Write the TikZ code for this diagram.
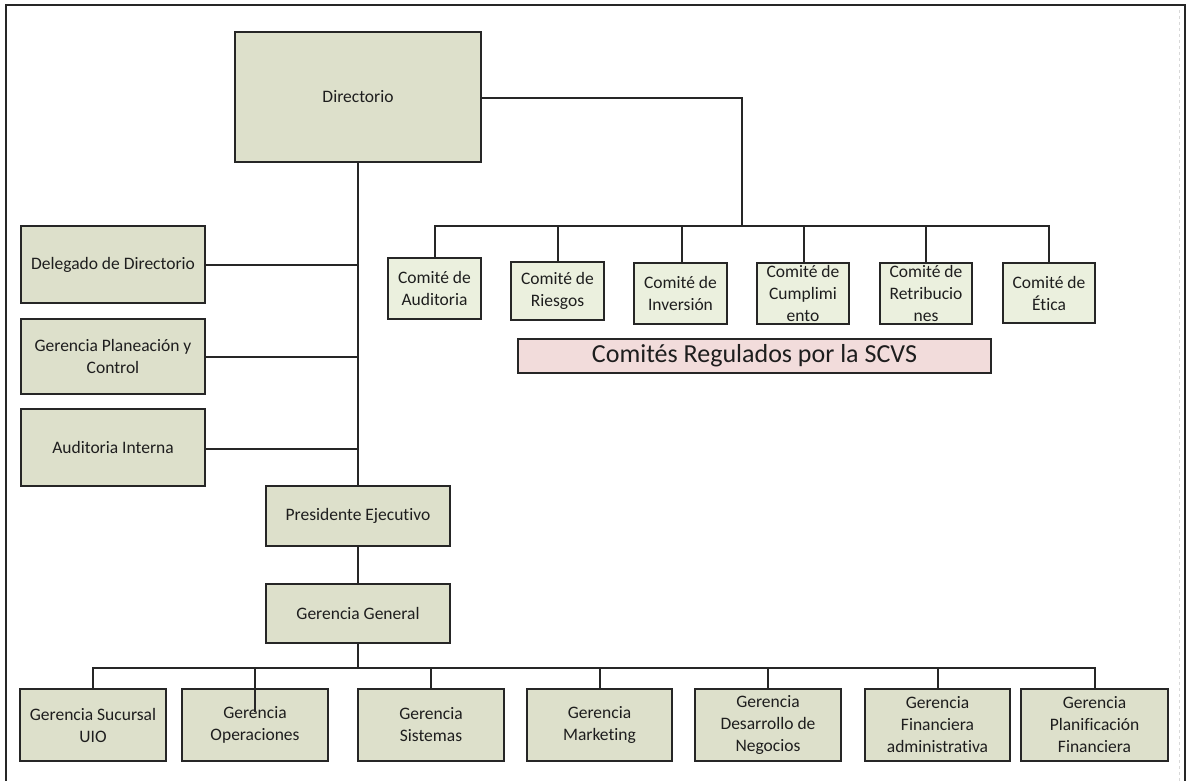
\documentclass[tikz,border=0pt]{standalone}
\usepackage{fontspec}
\setmainfont{Carlito}[Ligatures=NoCommon]
\definecolor{boxfill}{HTML}{DDE0CB}
\definecolor{comfill}{HTML}{EBF0DE}
\definecolor{bannerfill}{HTML}{F2DCDB}
\definecolor{txt}{HTML}{1E1E1E}
\definecolor{framegray}{HTML}{D8D8D8}
\tikzset{
  orgbox/.style={draw=black!85, line width=2pt, fill=boxfill, inner sep=0pt, align=center,
     text=txt, font=\fontsize{17.5}{22}\selectfont},
  combox/.style={orgbox, fill=comfill},
  banner/.style={draw=black!85, line width=1.6pt, fill=bannerfill, inner sep=0pt,
     text=txt, font=\fontsize{26}{28}\selectfont},
  conn/.style={draw=black!85, line width=2pt},
}
\newcommand{\bx}[7]{% name, style, x1, x2, y1, y2, text
  \node[#2, minimum width={(#4-#3)*1pt}, minimum height={(#6-#5)*1pt}] (#1) at ({(#3+#4)/2},{(#5+#6)/2}) {#7};}
\begin{document}
\begin{tikzpicture}[x=1pt,y=-1pt]
\useasboundingbox (0,0) rectangle (1187,781);
% frame
\draw[framegray, line width=1pt, dashed] (1179,10) -- (1179,781);
\draw[black!85, line width=2.5pt] (6,781) -- (6,5) -- (1185,5) -- (1185,781);
% main column
\bx{dir}{orgbox}{235}{481}{32}{162}{Directorio}
\bx{del}{orgbox}{21}{205}{226}{303}{Delegado de Directorio}
\bx{gpc}{orgbox}{21}{205}{319}{394}{Gerencia Planeación y\\Control}
\bx{aud}{orgbox}{21}{205}{409}{486}{Auditoria Interna}
\bx{pre}{orgbox}{266}{450}{486}{546}{Presidente Ejecutivo}
\bx{gg}{orgbox}{266}{450}{584}{643}{Gerencia General}
% committees
\bx{ca}{combox}{388}{481}{258}{319}{Comité de\\Auditoria}
\bx{cr}{combox}{511}{604}{262}{320}{Comité de\\Riesgos}
\bx{ci}{combox}{634}{727}{263}{324}{Comité de\\Inversión}
\bx{cc}{combox}{757}{849}{263}{324}{Comité de\\Cumplimi\\ento}
\bx{crt}{combox}{880}{972}{263}{324}{Comité de\\Retribucio\\nes}
\bx{ce}{combox}{1003}{1095}{263}{323}{Comité de\\Ética}
\bx{scvs}{banner}{518}{991}{339}{373}{Comités Regulados por la SCVS}
% bottom row
\bx{b1}{orgbox}{20}{166}{689}{761}{Gerencia Sucursal\\UIO}
\bx{b2}{orgbox}{182}{328}{689}{761}{Gerencia\\Operaciones}
\bx{b3}{orgbox}{358}{504}{689}{761}{Gerencia\\Sistemas}
\bx{b4}{orgbox}{527}{672}{689}{761}{Gerencia\\Marketing}
\bx{b5}{orgbox}{695}{841}{689}{761}{Gerencia\\Desarrollo de\\Negocios}
\bx{b6}{orgbox}{865}{1010}{689}{761}{Gerencia\\Financiera\\administrativa}
\bx{b7}{orgbox}{1021}{1168}{689}{761}{Gerencia\\Planificación\\Financiera}
% coordinates
\coordinate (cbus) at (742,226);
\coordinate (gbus) at (358,668);
\coordinate (b2in) at (255,712);
% connectors
\draw[conn] (dir.south) -- (pre.north);
\draw[conn] (del.east) -- (del.east -| dir.south);
\draw[conn] (gpc.east) -- (gpc.east -| dir.south);
\draw[conn] ([yshift=-1.5pt]aud.east) -- ([yshift=-1.5pt]aud.east -| dir.south);
\draw[conn] (pre.south) -- (gg.north);
\draw[conn] ([yshift=-1pt]dir.east) -| (cbus);
\draw[conn] (ca.north) |- (cbus) -| (ce.north);
\draw[conn] (cr.north) -- (cr.north |- cbus);
\draw[conn] ([xshift=1.5pt]ci.north) -- ([xshift=1.5pt]ci.north |- cbus);
\draw[conn] ([xshift=1pt]cc.north) -- ([xshift=1pt]cc.north |- cbus);
\draw[conn] (crt.north) -- (crt.north |- cbus);
\draw[conn] (gg.south) -- (gbus);
\draw[conn] (b1.north) |- (gbus) -| (b7.north);
\draw[conn] (b2in) -- (b2in |- gbus);
\draw[conn] (b3.north) -- (b3.north |- gbus);
\draw[conn] (b4.north) -- (b4.north |- gbus);
\draw[conn] (b5.north) -- (b5.north |- gbus);
\draw[conn] (b6.north) -- (b6.north |- gbus);
\end{tikzpicture}
\end{document}
